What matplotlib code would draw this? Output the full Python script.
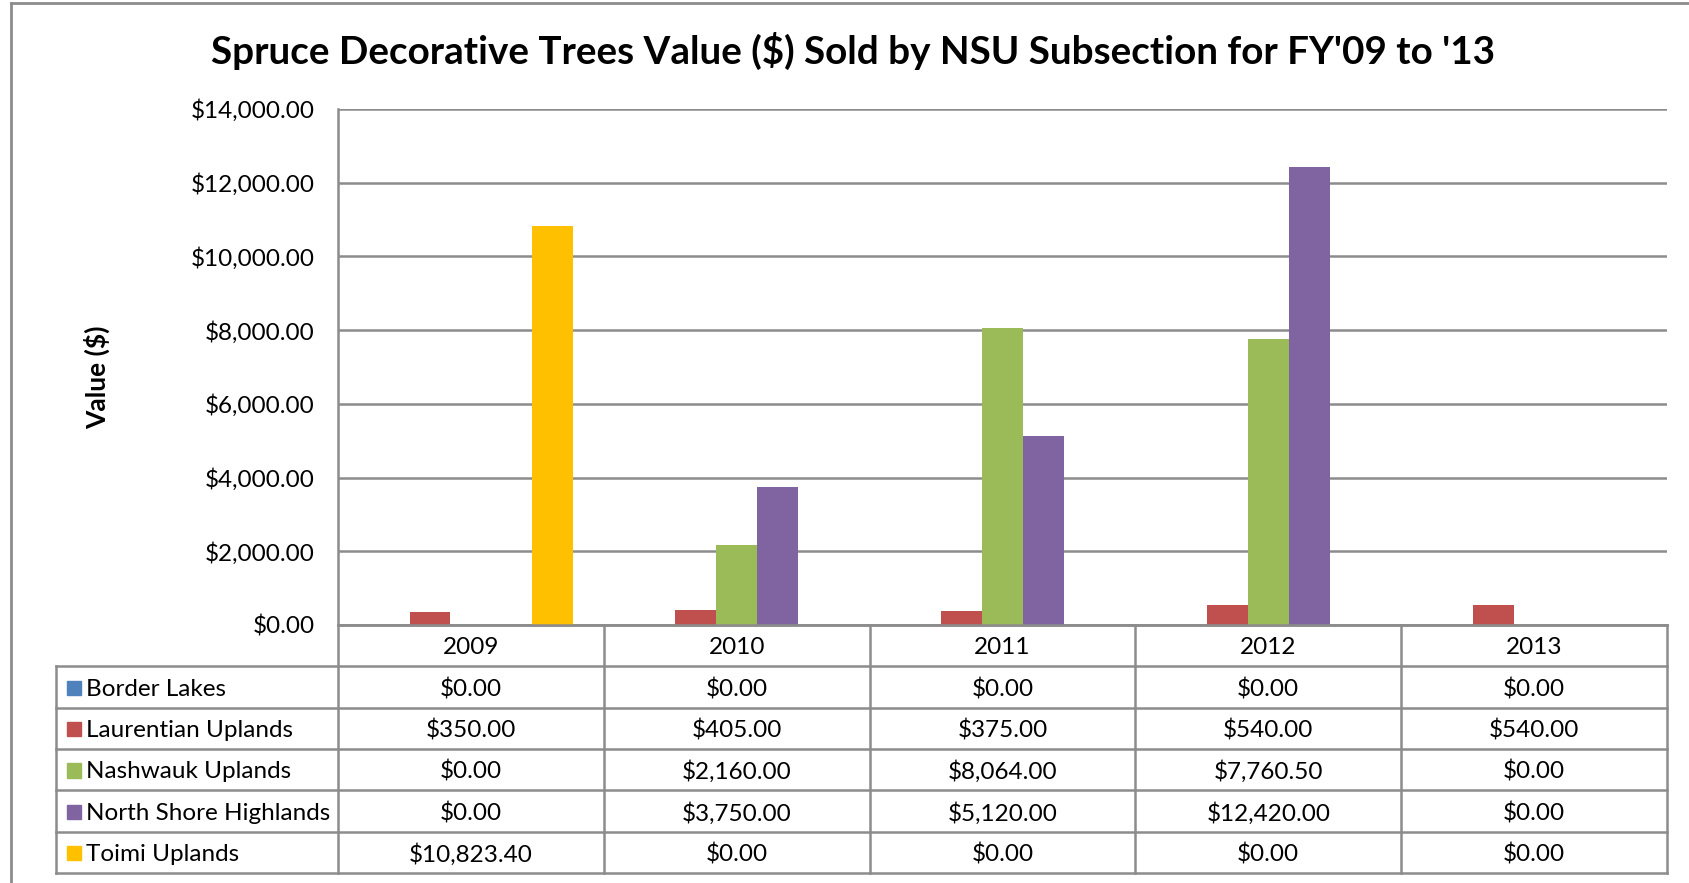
import matplotlib
matplotlib.use("Agg")
import matplotlib.pyplot as plt
from matplotlib.lines import Line2D
from matplotlib.patches import Rectangle
from matplotlib.ticker import FuncFormatter

# ---------------- data ----------------
years = ["2009", "2010", "2011", "2012", "2013"]
series_names = ["Border Lakes", "Laurentian Uplands", "Nashwauk Uplands",
                "North Shore Highlands", "Toimi Uplands"]
border_lakes = [0.0, 0.0, 0.0, 0.0, 0.0]
laurentian_uplands = [350.0, 405.0, 375.0, 540.0, 540.0]
nashwauk_uplands = [0.0, 2160.0, 8064.0, 7760.5, 0.0]
north_shore_highlands = [0.0, 3750.0, 5120.0, 12420.0, 0.0]
toimi_uplands = [10823.40, 0.0, 0.0, 0.0, 0.0]
colors = ["#4F81BD", "#C0504D", "#9BBB59", "#8064A2", "#FFC000"]
title = "Spruce Decorative Trees Value ($) Sold by NSU Subsection for FY'09 to '13"
ylabel = "Value ($)"

all_series = [border_lakes, laurentian_uplands, nashwauk_uplands,
              north_shore_highlands, toimi_uplands]

# ---------------- layout (pixels) ----------------
W, H = 1690, 883
FONT = "Lato"
GRID = "#8c8c8c"
plot_l, plot_r, plot_t, plot_b = 338, 1667, 109, 625
tab_l, tab_b = 56, 873
BODY_FS = 17.5
TXT_DY = 0.55

fig = plt.figure(figsize=(W / 100, H / 100), dpi=100)
fig.patch.set_facecolor("white")

def fx(px):
    return px / W

def fy(py):
    return 1 - py / H

ax = fig.add_axes([fx(plot_l), fy(plot_b), fx(plot_r - plot_l), (plot_b - plot_t) / H])
n = len(years)
ns = len(all_series)
bw = 1 / (ns + 1.5)
for j, vals in enumerate(all_series):
    xs = [i + (j - (ns - 1) / 2) * bw for i in range(n)]
    ax.bar(xs, vals, width=bw, color=colors[j], zorder=3, linewidth=0)

ax.set_xlim(-0.5, n - 0.5)
ax.set_ylim(0, 14000)
ax.set_yticks(range(0, 14001, 2000))
ax.yaxis.set_major_formatter(FuncFormatter(lambda v, p: "${:,.2f}".format(v)))
ax.set_xticks([])
ax.tick_params(axis="y", length=0, pad=17, labelsize=BODY_FS, labelcolor="black")
for lab in ax.get_yticklabels():
    lab.set_fontfamily(FONT)
ax.grid(axis="y", color=GRID, linewidth=1.8, zorder=0)
for s in ["top", "right"]:
    ax.spines[s].set_visible(False)
ax.spines["left"].set_color(GRID)
ax.spines["left"].set_linewidth(1.8)
ax.spines["bottom"].set_color(GRID)
ax.spines["bottom"].set_linewidth(1.8)

# ---------------- data table ----------------
colw = (plot_r - plot_l) / n
tax = fig.add_axes([fx(tab_l), fy(tab_b), fx(plot_r - tab_l), (tab_b - plot_b) / H])
left_x = -0.5 - (plot_l - tab_l) / colw
tax.set_xlim(left_x, n - 0.5)
nrows = ns + 1
tax.set_ylim(nrows, 0)
tax.axis("off")
lk = dict(color=GRID, linewidth=1.8, solid_capstyle="projecting", clip_on=False)
tax.add_line(Line2D([-0.5, n - 0.5], [0, 0], **lk))
for r in range(1, nrows + 1):
    tax.add_line(Line2D([left_x, n - 0.5], [r, r], **lk))
for c in range(n + 1):
    tax.add_line(Line2D([c - 0.5, c - 0.5], [0, nrows], **lk))
tax.add_line(Line2D([left_x, left_x], [1, nrows], **lk))

for i, yr in enumerate(years):
    tax.text(i, TXT_DY, yr, ha="center", va="center", fontsize=BODY_FS, family=FONT)
sq_w = 14 / colw
for j, (name, vals) in enumerate(zip(series_names, all_series)):
    r = j + 1
    tax.add_patch(Rectangle((left_x + 11 / colw, r + 0.5 - 0.15), sq_w, 0.34,
                            color=colors[j], clip_on=False))
    tax.text(left_x + 30 / colw, r + TXT_DY, name, ha="left", va="center",
             fontsize=BODY_FS, family=FONT)
    for i, v in enumerate(vals):
        tax.text(i, r + TXT_DY, "${:,.2f}".format(v), ha="center", va="center",
                 fontsize=BODY_FS, family=FONT)

# ---------------- title, labels, border ----------------
fig.text(fx(853), fy(51), title, ha="center", va="center", fontsize=27.8,
         fontweight="bold", family=FONT)
fig.text(fx(97), fy(377), ylabel, ha="center", va="center", rotation=90,
         fontsize=19, fontweight="bold", family=FONT)
fig.add_artist(Line2D([fx(11), fx(11)], [fy(3), 0], transform=fig.transFigure,
                      color=GRID, linewidth=2))
fig.add_artist(Line2D([fx(11), 1], [fy(3), fy(3)], transform=fig.transFigure,
                      color=GRID, linewidth=2))

fig.savefig("out.png", dpi=100)
